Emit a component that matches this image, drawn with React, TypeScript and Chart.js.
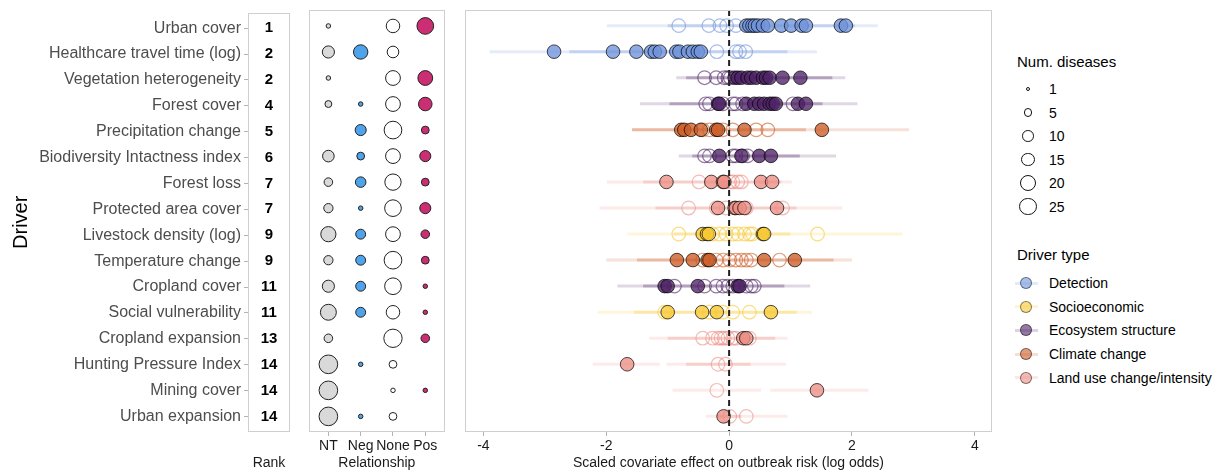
import React, { useEffect, useRef } from 'react';
import { Chart, registerables } from 'chart.js';
Chart.register(...registerables);

const FONT = "'Liberation Sans', Arial, Helvetica, sans-serif";
Chart.defaults.font.family = FONT;

// ---------- data ----------
const drivers = [
  'Urban cover', 'Healthcare travel time (log)', 'Vegetation heterogeneity', 'Forest cover',
  'Precipitation change', 'Biodiversity Intactness index', 'Forest loss', 'Protected area cover',
  'Livestock density (log)', 'Temperature change', 'Cropland cover', 'Social vulnerability',
  'Cropland expansion', 'Hunting Pressure Index', 'Mining cover', 'Urban expansion',
];
const ranks = [1, 2, 2, 4, 5, 6, 7, 7, 9, 9, 11, 11, 13, 14, 14, 14];
const driverTypes = [
  'Detection', 'Detection', 'Ecosystem structure', 'Ecosystem structure',
  'Climate change', 'Ecosystem structure', 'Land use change/intensity', 'Land use change/intensity',
  'Socioeconomic', 'Climate change', 'Ecosystem structure', 'Socioeconomic',
  'Land use change/intensity', 'Land use change/intensity', 'Land use change/intensity', 'Land use change/intensity',
];
const driverTypeOrder = ['Detection', 'Socioeconomic', 'Ecosystem structure', 'Climate change', 'Land use change/intensity'];

const relationshipCats = ['NT', 'Neg', 'None', 'Pos'];
const ntCounts = [1, 11, 1, 3, 0, 10, 5, 6, 18, 6, 11, 20, 5, 28, 28, 28];
const negCounts = [0, 16, 0, 1, 9, 4, 8, 1, 7, 7, 7, 7, 0, 1, 0, 1];
const noneCounts = [14, 10, 17, 17, 25, 17, 21, 22, 17, 25, 22, 14, 27, 4, 1, 4];
const posCounts = [22, 0, 17, 14, 4, 9, 4, 9, 5, 4, 1, 1, 5, 0, 1, 0];
const sizeBreaks = [1, 5, 10, 15, 20, 25];

// significant effects (filled points)
const sigEffects: number[][] = [
  [0.28, 0.33, 0.38, 0.42, 0.47, 0.55, 0.63, 0.85, 1.01, 1.18, 1.25, 1.82, 1.90],
  [-2.85, -1.89, -1.51, -1.27, -1.21, -1.13, -0.86, -0.81, -0.67, -0.59, -0.51, -0.46],
  [0.09, 0.14, 0.20, 0.30, 0.36, 0.44, 0.55, 0.60, 0.66, 0.87, 1.16],
  [-0.18, -0.16, 0.28, 0.41, 0.49, 0.57, 0.66, 0.71, 0.76, 1.12, 1.25],
  [-0.78, -0.73, -0.62, -0.46, -0.21, -0.18, 0.25, 1.51],
  [-0.16, 0.20, 0.49, 0.68],
  [-1.02, -0.29, -0.10, -0.08, 0.52, 0.70],
  [-0.18, 0.09, 0.11, 0.17, 0.25, 0.78],
  [-0.43, -0.36, -0.33, 0.55, 0.57],
  [-0.85, -0.59, -0.35, -0.32, 0.57, 1.07],
  [-1.05, -1.00, -0.51, 0.14, 0.17],
  [-1.00, -0.44, -0.20, 0.68],
  [0.23, 0.28],
  [-1.66],
  [1.43],
  [-0.09],
];
// non-significant effects (open points)
const nsEffects: number[][] = [
  [-0.82, -0.33, -0.15, -0.04, 0.11],
  [-0.20, 0.11, 0.17, 0.27],
  [-0.40, -0.21, -0.08, -0.02, 0.02],
  [-0.38, -0.32, -0.10, 0.06, 0.11, 0.22, 1.04],
  [-0.43, -0.32, -0.10, 0.06, 0.44, 0.63],
  [-0.40, -0.32, 0.06, 0.11, 0.22, 0.30],
  [-0.49, 0.01, 0.06, 0.14, 0.20],
  [-0.66, -0.21, -0.05, 0.28, 0.87],
  [-0.82, -0.27, -0.16, -0.05, 0.06, 0.14, 0.25, 0.33, 0.38, 1.44],
  [-0.43, -0.21, -0.10, 0.01, 0.11, 0.20, 0.28, 0.36, 0.82],
  [-0.89, -0.40, -0.21, -0.10, -0.02, 0.06, 0.28, 0.36, 0.41],
  [-1.05, -0.32, -0.10, 0.06, 0.33],
  [-0.43, -0.27, -0.18, -0.13, -0.08, -0.02, 0.06, 0.11, 0.33],
  [-0.18, -0.06],
  [-0.20],
  [0.01, 0.28],
];
// interval extents (outer = faint, inner = stronger)
const ciOuter: number[][][] = [
  [[-1.99, 2.42]], [[-3.9, 1.43]], [[-0.86, 1.89]], [[-1.45, 2.09]],
  [[-1.58, 2.93]], [[-0.82, 1.74]], [[-1.99, 1.02]], [[-2.11, 1.84]],
  [[-1.66, 2.82]], [[-2.0, 2.0]], [[-1.82, 1.32]], [[-2.14, 1.35]],
  [[-1.30, 0.95]], [[-2.22, -1.13], [-1.02, 0.93]], [[-0.92, 0.52], [0.67, 2.27]], [[-0.38, 0.95]],
];
const ciInner: number[][][] = [
  [[-1.0, 2.05]], [[-2.6, 0.95]], [[-0.70, 1.68]], [[-0.97, 1.52]],
  [[-1.58, 1.25]], [[-0.60, 1.15]], [[-1.40, 0.85]], [[-1.20, 1.10]],
  [[-0.90, 1.0]], [[-1.50, 1.70]], [[-1.40, 0.90]], [[-1.55, 1.10]],
  [[-1.0, 0.75]], [[-0.70, 0.35]], [], [[-0.20, 0.20]],
];
const xTicks = [-4, -2, 0, 2, 4];
const xTitle = 'Scaled covariate effect on outbreak risk (log odds)';

// ---------- styles ----------
const typeRGB: Record<string, number[]> = {
  'Detection': [112, 148, 219],
  'Socioeconomic': [247, 200, 50],
  'Ecosystem structure': [78, 35, 102],
  'Climate change': [204, 92, 38],
  'Land use change/intensity': [236, 142, 132],
};
const rgba = (t: string, a: number) => {
  const c = typeRGB[t];
  return `rgba(${c[0]},${c[1]},${c[2]},${a})`;
};
const relColors = ['#d9d9d9', '#4ea3ea', '#ffffff', '#cc2e74'];
const sizeR = (n: number) => 0.6 + 1.65 * Math.sqrt(n);
const rowMin = -0.6;
const rowMax = drivers.length - 1 + 0.6;

const boxPlugin = {
  id: 'panelBox',
  afterDraw(chart: any) {
    const { ctx, chartArea: a } = chart;
    ctx.save();
    ctx.strokeStyle = '#cfcfcf';
    ctx.lineWidth = 1;
    ctx.strokeRect(Math.round(a.left) + 0.5, Math.round(a.top) + 0.5,
      Math.round(a.right - a.left) - 1, Math.round(a.bottom - a.top) - 1);
    ctx.restore();
  },
};
const rankPlugin = {
  id: 'rankText',
  afterDraw(chart: any) {
    const { ctx, chartArea: a, scales } = chart;
    ctx.save();
    ctx.font = `bold 15px ${FONT}`;
    ctx.fillStyle = '#000';
    ctx.textAlign = 'center';
    ctx.textBaseline = 'middle';
    ranks.forEach((r, i) => ctx.fillText(String(r), (a.left + a.right) / 2, scales.y.getPixelForValue(i)));
    ctx.restore();
  },
};

const rowTicks = (s: any) => { s.ticks = drivers.map((_, i) => ({ value: i })); };

export default function App() {
  const c1 = useRef<HTMLCanvasElement>(null);
  const c2 = useRef<HTMLCanvasElement>(null);
  const c3 = useRef<HTMLCanvasElement>(null);

  useEffect(() => {
    const common = {
      animation: false as const,
      responsive: false,
      plugins: { legend: { display: false }, tooltip: { enabled: false } },
    };

    // Panel 1: driver labels + rank
    const ch1 = new Chart(c1.current!, {
      type: 'scatter',
      data: { datasets: [] },
      options: {
        ...common,
        layout: { padding: { top: 10, right: 0, bottom: 0, left: 0 } },
        scales: {
          x: {
            type: 'linear', min: 0, max: 1,
            ticks: { display: false }, grid: { display: false }, border: { display: false },
            title: { display: true, text: 'Rank', font: { size: 14 }, color: '#1a1a1a', padding: { top: 0, bottom: 2 } },
            afterFit: (s: any) => { s.height = 42; },
          },
          y: {
            type: 'linear', reverse: true, min: rowMin, max: rowMax,
            afterBuildTicks: rowTicks,
            ticks: { callback: (v: any) => drivers[v], font: { size: 16 }, color: '#4d4d4d', padding: 3, autoSkip: false },
            grid: { drawOnChartArea: false, drawTicks: true, tickLength: 4, color: '#b3b3b3' },
            border: { display: false },
            title: { display: true, text: 'Driver', font: { size: 20 }, color: '#000', padding: { top: 9, bottom: 0 } },
            afterFit: (s: any) => { s.width = 248; },
          },
        },
      } as any,
      plugins: [boxPlugin, rankPlugin],
    });

    // Panel 2: relationship bubbles
    const countSets = [ntCounts, negCounts, noneCounts, posCounts];
    const ch2 = new Chart(c2.current!, {
      type: 'bubble',
      data: {
        datasets: countSets.map((counts, k) => ({
          data: counts.map((n, i) => ({ x: k, y: i, r: n > 0 ? sizeR(n) : 0 })).filter(p => p.r > 0),
          backgroundColor: relColors[k],
          borderColor: '#222',
          borderWidth: 1,
        })),
      },
      options: {
        ...common,
        layout: { padding: { top: 10, right: 9, bottom: 0, left: 14 } },
        scales: {
          x: {
            type: 'linear', min: -0.6, max: 3.6,
            afterBuildTicks: (s: any) => { s.ticks = relationshipCats.map((_, i) => ({ value: i })); },
            ticks: { callback: (v: any) => relationshipCats[v], font: { size: 14 }, color: '#1a1a1a', padding: 2, autoSkip: false, maxRotation: 0, minRotation: 0 },
            grid: { drawOnChartArea: false, drawTicks: true, tickLength: 4, color: '#b3b3b3' },
            border: { display: false },
            title: { display: true, text: 'Relationship', font: { size: 14 }, color: '#1a1a1a', padding: { top: 0, bottom: 2 } },
            afterFit: (s: any) => { s.height = 42; },
          },
          y: { type: 'linear', reverse: true, min: rowMin, max: rowMax, display: false },
        },
      } as any,
      plugins: [boxPlugin],
    });

    // Panel 3: effects
    const ds: any[] = [];
    ds.push({
      data: [{ x: 0, y: rowMin }, { x: 0, y: rowMax }],
      showLine: true, borderColor: '#222', borderWidth: 2, borderDash: [6, 4], pointRadius: 0, order: -1,
    });
    drivers.forEach((_, i) => {
      const t = driverTypes[i];
      ds.push({
        data: sigEffects[i].map(x => ({ x, y: i })),
        pointRadius: 6.8, pointBackgroundColor: rgba(t, 0.78), pointBorderColor: 'rgba(0,0,0,0.7)', pointBorderWidth: 1, order: 0,
      });
      ds.push({
        data: nsEffects[i].map(x => ({ x, y: i })),
        pointRadius: 6.8, pointBackgroundColor: 'rgba(255,255,255,0)', pointBorderColor: rgba(t, 0.6), pointBorderWidth: 1.2, order: 1,
      });
      ciInner[i].forEach(seg => ds.push({
        data: [{ x: seg[0], y: i }, { x: seg[1], y: i }],
        showLine: true, borderColor: rgba(t, 0.3), borderWidth: 3, pointRadius: 0, order: 2,
      }));
      ciOuter[i].forEach(seg => ds.push({
        data: [{ x: seg[0], y: i }, { x: seg[1], y: i }],
        showLine: true, borderColor: rgba(t, 0.18), borderWidth: 3, pointRadius: 0, order: 3,
      }));
    });
    const ch3 = new Chart(c3.current!, {
      type: 'scatter',
      data: { datasets: ds },
      options: {
        ...common,
        layout: { padding: { top: 10, right: 7, bottom: 0, left: 10 } },
        scales: {
          x: {
            type: 'linear', min: -4.3, max: 4.28,
            afterBuildTicks: (s: any) => { s.ticks = xTicks.map(v => ({ value: v })); },
            ticks: { callback: (v: any) => String(v), font: { size: 14 }, color: '#1a1a1a', padding: 2, maxRotation: 0, minRotation: 0 },
            grid: { drawOnChartArea: false, drawTicks: true, tickLength: 4, color: '#b3b3b3' },
            border: { display: false },
            title: { display: true, text: xTitle, font: { size: 14 }, color: '#1a1a1a', padding: { top: 0, bottom: 2 } },
            afterFit: (s: any) => { s.height = 42; },
          },
          y: { type: 'linear', reverse: true, min: rowMin, max: rowMax, display: false },
        },
      } as any,
      plugins: [boxPlugin],
    });

    return () => { ch1.destroy(); ch2.destroy(); ch3.destroy(); };
  }, []);

  const abs = (left: number, top: number, extra: any = {}) => ({ position: 'absolute' as const, left, top, ...extra });

  return (
    <div style={{ position: 'absolute', left: 0, top: 0, width: 1226, height: 474, background: '#fff', overflow: 'hidden', fontFamily: FONT }}>
      <canvas ref={c1} width={290} height={474} style={abs(0, 0)} />
      <canvas ref={c2} width={160} height={474} style={abs(295, 0)} />
      <canvas ref={c3} width={545} height={474} style={abs(455, 0)} />

      <div style={abs(1017, 53, { fontSize: 15, lineHeight: '18px', color: '#000', whiteSpace: 'nowrap' })}>Num. diseases</div>
      {sizeBreaks.map((n, i) => {
        const y = 89 + i * 23.5;
        const r = sizeR(n);
        return (
          <React.Fragment key={n}>
            <div style={abs(1028 - r, y - r, { width: 2 * r, height: 2 * r, border: '1px solid #111', borderRadius: '50%', boxSizing: 'border-box' })} />
            <div style={abs(1049, y - 9, { fontSize: 14, lineHeight: '18px', color: '#000' })}>{n}</div>
          </React.Fragment>
        );
      })}

      <div style={abs(1017, 246, { fontSize: 15, lineHeight: '18px', color: '#000', whiteSpace: 'nowrap' })}>Driver type</div>
      {driverTypeOrder.map((t, i) => {
        const y = 283 + i * 23.7;
        return (
          <React.Fragment key={t}>
            <div style={abs(1015, y - 1.5, { width: 23, height: 3, background: rgba(t, 0.2) })} />
            <div style={abs(1026 - 6, y - 6, { width: 12, height: 12, borderRadius: '50%', background: rgba(t, 0.6), border: '1px solid rgba(0,0,0,0.45)', boxSizing: 'border-box' })} />
            <div style={abs(1049, y - 9, { fontSize: 14, lineHeight: '18px', color: '#000', whiteSpace: 'nowrap' })}>{t}</div>
          </React.Fragment>
        );
      })}
    </div>
  );
}
